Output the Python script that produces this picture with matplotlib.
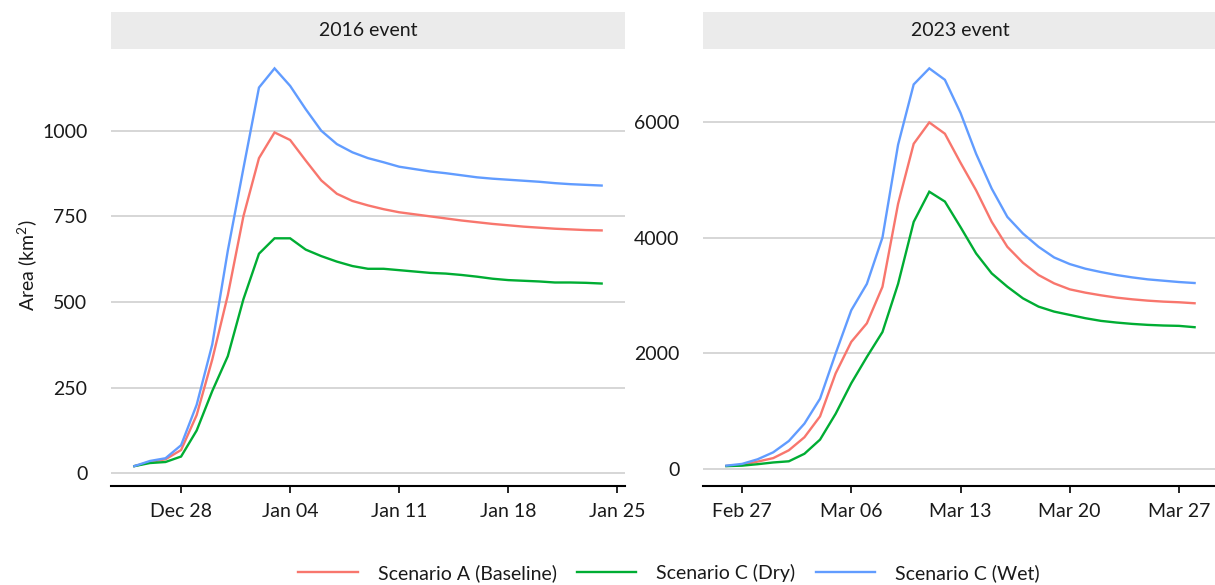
import matplotlib
matplotlib.use("Agg")
import matplotlib.pyplot as plt
import pandas as pd
from matplotlib.patches import Rectangle

plt.rcParams['font.family'] = ['Lato', 'DejaVu Sans']
plt.rcParams['mathtext.fontset'] = 'custom'
plt.rcParams['mathtext.rm'] = 'Lato'
plt.rcParams['mathtext.it'] = 'Lato:italic'
plt.rcParams['mathtext.bf'] = 'Lato:bold'

# ---------------- data ----------------
series_names = ["Scenario A (Baseline)", "Scenario C (Dry)", "Scenario C (Wet)"]
series_colors = ["#F8766D", "#00AD33", "#619CFF"]

panel_titles = ["2016 event", "2023 event"]

dates_2016 = pd.date_range("2015-12-25", "2016-01-24", freq="D")
base_2016 = [21, 33, 41, 68, 170, 332, 520, 750, 920, 995, 973, 913, 855, 816, 795,
             782, 771, 762, 756, 750, 744, 738, 733, 728, 724, 720, 717, 714, 712, 710, 709]
dry_2016 = [21, 30, 33, 49, 125, 240, 342, 508, 641, 686, 686, 653, 634, 618, 605,
            597, 597, 593, 589, 585, 583, 579, 574, 568, 564, 562, 560, 557, 557, 556, 554]
wet_2016 = [21, 36, 44, 82, 200, 376, 650, 890, 1126, 1182, 1131, 1063, 1000, 961, 937,
            920, 908, 895, 888, 881, 876, 870, 864, 860, 857, 854, 851, 847, 844, 842, 840]

dates_2023 = pd.date_range("2023-02-26", "2023-03-28", freq="D")
base_2023 = [60, 78, 135, 195, 330, 555, 915, 1657, 2200, 2520, 3150, 4580, 5616, 5985, 5790,
             5290, 4814, 4270, 3840, 3565, 3353, 3209, 3106, 3049, 3003, 2963, 2934, 2911, 2894, 2883, 2866]
dry_2023 = [57, 65, 90, 120, 140, 270, 514, 960, 1486, 1940, 2370, 3200, 4269, 4790, 4620,
            4180, 3725, 3381, 3152, 2951, 2808, 2722, 2665, 2608, 2562, 2533, 2510, 2493, 2482, 2476, 2453]
wet_2023 = [65, 95, 175, 295, 490, 790, 1220, 2000, 2745, 3200, 4000, 5600, 6640, 6917, 6720,
            6150, 5444, 4843, 4356, 4069, 3840, 3656, 3542, 3462, 3404, 3353, 3312, 3278, 3255, 3232, 3215]

xticks_2016 = ["2015-12-28", "2016-01-04", "2016-01-11", "2016-01-18", "2016-01-25"]
xticklabels_2016 = ["Dec 28", "Jan 04", "Jan 11", "Jan 18", "Jan 25"]
xticks_2023 = ["2023-02-27", "2023-03-06", "2023-03-13", "2023-03-20", "2023-03-27"]
xticklabels_2023 = ["Feb 27", "Mar 06", "Mar 13", "Mar 20", "Mar 27"]
yticks_2016 = [0, 250, 500, 750, 1000]
yticks_2023 = [0, 2000, 4000, 6000]

y_label = "Area (km$^2$)"

# ---------------- figure ----------------
W, H = 1215, 585
fig = plt.figure(figsize=(W / 100, H / 100), dpi=100)
panel_bottom = (H - 486) / H
panel_height = 437.5 / H
ax1 = fig.add_axes([111 / W, panel_bottom, 514 / W, panel_height])
ax2 = fig.add_axes([703 / W, panel_bottom, 515 / W, panel_height])

FS = 14
TXT = "#1a1a1a"

panels = [
    (ax1, dates_2016, [base_2016, dry_2016, wet_2016], xticks_2016, xticklabels_2016, yticks_2016, panel_titles[0]),
    (ax2, dates_2023, [base_2023, dry_2023, wet_2023], xticks_2023, xticklabels_2023, yticks_2023, panel_titles[1]),
]

handles = []
for ax, dates, ys, xt, xtl, yt, title in panels:
    hs = []
    for y, c, name in zip(ys, series_colors, series_names):
        h, = ax.plot(dates, y, color=c, lw=1.7, label=name, solid_joinstyle="miter")
        hs.append(h)
    handles = hs
    ax.margins(x=0.05, y=0.05)
    ax.set_xticks(pd.to_datetime(xt))
    ax.set_xticklabels(xtl)
    ax.set_yticks(yt)
    ax.set_yticklabels([str(v) for v in yt])
    ax.grid(axis="y", color="#cfcfcf", lw=1.2)
    ax.grid(axis="x", visible=False)
    ax.set_axisbelow(True)
    for s in ["top", "right", "left"]:
        ax.spines[s].set_visible(False)
    ax.spines["bottom"].set_color("black")
    ax.spines["bottom"].set_linewidth(1.5)
    ax.tick_params(axis="x", direction="out", length=5, width=1.2, color="black",
                   labelsize=FS, labelcolor=TXT, pad=7)
    ax.tick_params(axis="y", length=0, labelsize=FS, labelcolor=TXT, pad=17)
    # facet strip
    strip_h = 36 / 437.5
    ax.add_patch(Rectangle((0, 1.0), 1, strip_h, transform=ax.transAxes,
                           facecolor="#ebebeb", edgecolor="none", clip_on=False))
    ax.text(0.5, 1.0 + strip_h / 2, title, transform=ax.transAxes, ha="center",
            va="center", fontsize=FS, color=TXT)

fig.text(27 / W, 1 - 265 / H, y_label, rotation=90, ha="center", va="center",
         fontsize=FS, color=TXT)

fig.legend(handles, series_names, loc="center", bbox_to_anchor=(669 / W, 1 - 573 / H),
           ncol=3, frameon=False, handlelength=3.05, handletextpad=1.03,
           columnspacing=1.05, fontsize=FS, labelcolor=TXT)

fig.savefig("out.png", dpi=100)
